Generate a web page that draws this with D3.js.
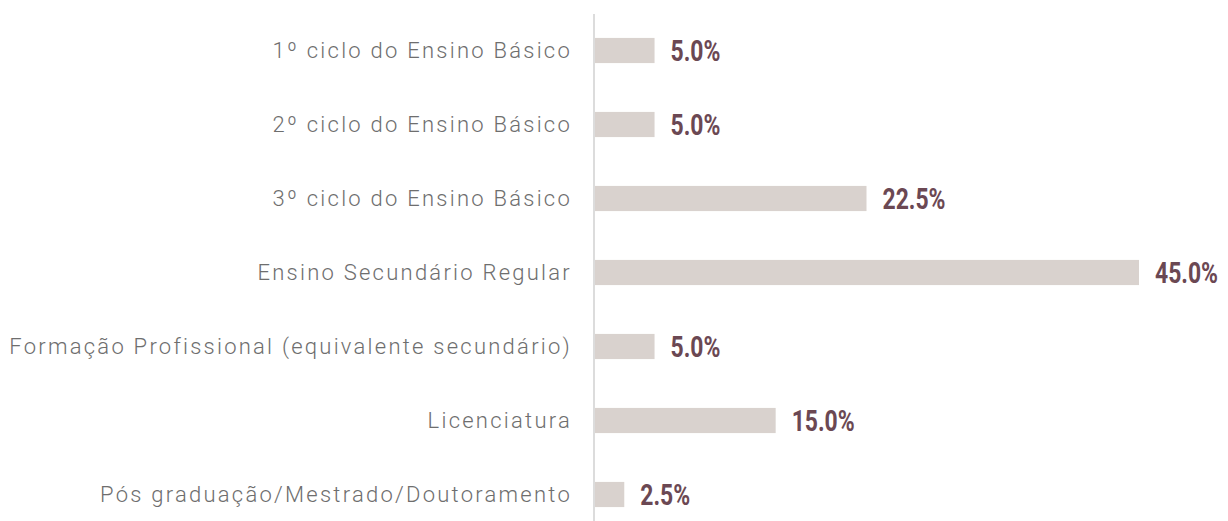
<!DOCTYPE html>
<html>
<head>
<meta charset="utf-8">
<script src="https://cdn.jsdelivr.net/npm/d3@7"></script>
<style>
  body { margin: 0; background: #fff; }
  .cat { font-family: Roboto, sans-serif; font-weight: 300; font-size: 22px; fill: #6e6e6e; letter-spacing: 2.25px; }
  .val { font-family: Roboto, sans-serif; font-weight: bold; font-size: 29px; fill: #6b4853; }
</style>
</head>
<body>
<script>
const categories = [
    '1º ciclo do Ensino Básico',
    '2º ciclo do Ensino Básico',
    '3º ciclo do Ensino Básico',
    'Ensino Secundário Regular',
    'Formação Profissional (equivalente secundário)',
    'Licenciatura',
    'Pós graduação/Mestrado/Doutoramento'
];
const values = [5.0, 5.0, 22.5, 45.0, 5.0, 15.0, 2.5];

const chartWidth = 1228;
const chartHeight = 521;
const left = 594;

const chart = d3.select('body')
    .append('svg')
    .attr('width', chartWidth)
    .attr('height', chartHeight);

const x = d3.scaleLinear()
    .domain([0, 45])
    .range([left, 1139]);

const y = d3.scaleBand()
    .domain(categories)
    .range([13.5, 531.5])
    .paddingInner(0.66)
    .paddingOuter(0.33);

// axis line
chart.append('line')
    .attr('x1', left).attr('x2', left)
    .attr('y1', 14).attr('y2', chartHeight)
    .attr('stroke', '#dcdcdc')
    .attr('stroke-width', 2);

chart.selectAll('rect.bar')
    .data(values)
    .enter()
    .append('rect')
    .attr('class', 'bar')
    .attr('x', left + 1)
    .attr('y', (d, i) => y(categories[i]))
    .attr('width', d => x(d) - left - 1)
    .attr('height', y.bandwidth())
    .attr('fill', '#d9d2ce');

chart.selectAll('text.cat')
    .data(categories)
    .enter()
    .append('text')
    .attr('class', 'cat')
    .attr('x', 572)
    .attr('y', d => y(d) + y.bandwidth() / 2)
    .attr('dy', '0.35em')
    .attr('text-anchor', 'end')
    .text(d => d);

// condensed look for the value labels
chart.selectAll('text.val')
    .data(values)
    .enter()
    .append('text')
    .attr('class', 'val')
    .attr('transform', (d, i) =>
        `translate(${x(d) + 16}, ${y(categories[i]) + y.bandwidth() / 2}) scale(0.79, 1)`)
    .attr('dy', '0.36em')
    .text(d => d.toFixed(1) + '%');
</script>
</body>
</html>
